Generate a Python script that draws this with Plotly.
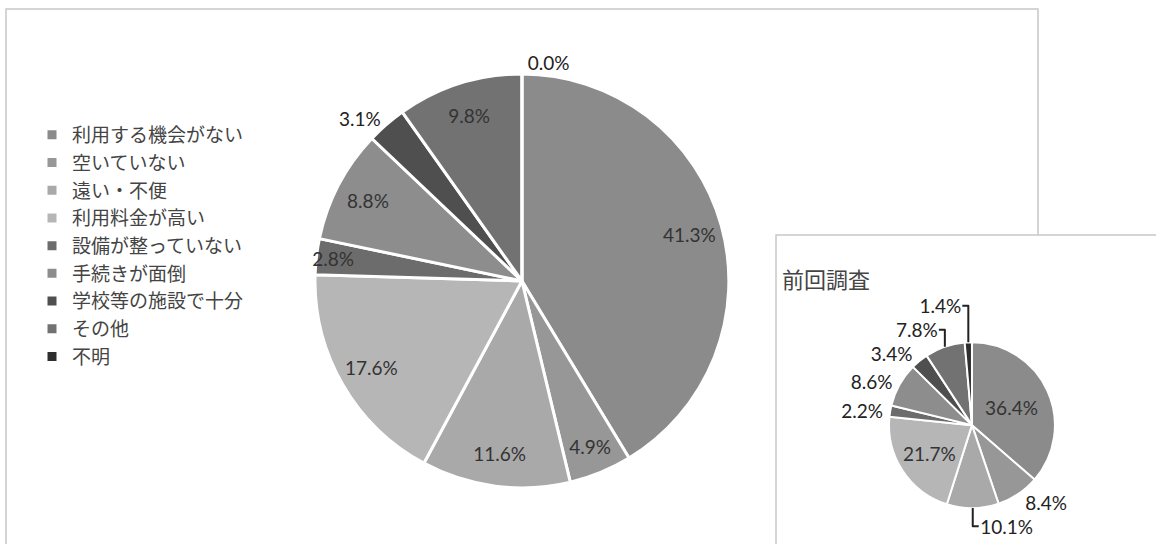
import plotly.graph_objects as go

# 項目（凡例の順）
labels = ["利用する機会がない", "空いていない", "遠い・不便", "利用料金が高い",
          "設備が整っていない", "手続きが面倒", "学校等の施設で十分", "その他", "不明"]

# 今回調査（%）
current = [41.3, 4.9, 11.6, 17.6, 2.8, 8.8, 3.1, 9.8, 0.0]
# 前回調査（%）
previous = [36.4, 8.4, 10.1, 21.7, 2.2, 8.6, 3.4, 7.8, 1.4]

colors = ["#8b8b8b", "#979797", "#a9a9a9", "#b6b6b6", "#6c6c6c",
          "#8d8d8d", "#4f4f4f", "#727272", "#2e2e2e"]

# 外側に表示するラベル
outside_current = [False, False, False, False, False, False, True, False, True]
pos_previous = ["inside", "outside", "outside", "inside", "outside",
                "outside", "outside", "outside", "outside"]

num_font = "Lato, 'Open Sans', sans-serif"
jp_font = "'Noto Sans CJK JP', sans-serif"
fmt = "%{value:.1f}%"

main_domain = dict(x=[0.2725, 0.6305], y=[0.103, 0.864])

fig = go.Figure()

# 今回調査（外側ラベルのみ）
fig.add_trace(go.Pie(
    labels=labels, values=current, sort=False, direction="clockwise",
    marker=dict(colors=colors, line=dict(color="white", width=3)),
    texttemplate=[fmt if o else "" for o in outside_current],
    textposition=["outside" if o else "none" for o in outside_current],
    textfont=dict(family=num_font, size=19, color="#222222"),
    domain=main_domain, hoverinfo="label+value", name="今回",
))

# 今回調査の内側ラベル（外周寄りに配置するための透明リング）
fig.add_trace(go.Pie(
    labels=labels, values=current, sort=False, direction="clockwise", hole=0.68,
    marker=dict(colors=["rgba(0,0,0,0)"] * len(labels), line=dict(width=0)),
    texttemplate=["" if o else fmt for o in outside_current],
    textposition="inside", insidetextorientation="horizontal",
    textfont=dict(family=num_font, size=19, color="#333333"),
    domain=main_domain, hoverinfo="skip", showlegend=False,
))

# 前回調査
fig.add_trace(go.Pie(
    labels=labels, values=previous, sort=False, direction="clockwise",
    marker=dict(colors=colors, line=dict(color="white", width=2)),
    texttemplate=fmt, textposition=pos_previous,
    insidetextorientation="horizontal",
    textfont=dict(family=num_font, size=20, color="#222222"),
    insidetextfont=dict(family=num_font, size=20, color="#333333"),
    domain=dict(x=[0.769, 0.9126], y=[0.066, 0.371]),
    hoverinfo="label+value", showlegend=False, name="前回調査",
))

# 枠線
fig.add_shape(type="rect", xref="paper", yref="paper",
              x0=6 / 1156, x1=1038 / 1156, y0=-0.05, y1=1 - 9 / 544,
              line=dict(color="#c8c8c8", width=1.5), layer="below")
fig.add_shape(type="rect", xref="paper", yref="paper",
              x0=776 / 1156, x1=1.05, y0=-0.05, y1=1 - 235 / 544,
              line=dict(color="#c8c8c8", width=1.5), fillcolor="white", layer="below")

fig.add_annotation(text="前回調査", xref="paper", yref="paper",
                   x=780 / 1156, y=1 - 278 / 544, xanchor="left", yanchor="middle",
                   showarrow=False, font=dict(family=jp_font, size=22, color="#444444"))

fig.update_layout(
    width=1156, height=544,
    margin=dict(l=0, r=0, t=0, b=0),
    paper_bgcolor="white", plot_bgcolor="white",
    uniformtext=dict(minsize=19, mode="show"),
    legend=dict(x=32 / 1156, y=1 - 116 / 544, xanchor="left", yanchor="top",
                font=dict(family=jp_font, size=19, color="#444444"),
                itemwidth=30, bgcolor="rgba(0,0,0,0)"),
)

fig.write_html("out.html", config={"displayModeBar": False},
               post_script="document.body.style.margin='0';")
